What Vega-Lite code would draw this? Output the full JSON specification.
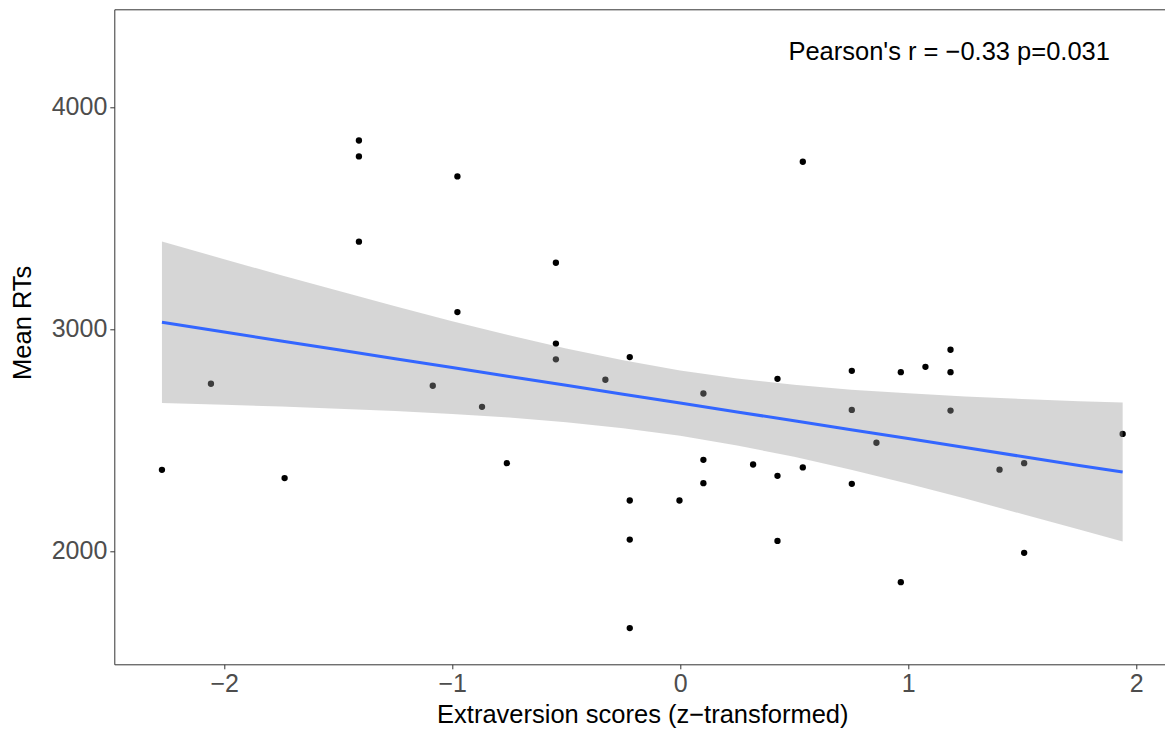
{
  "$schema": "https://vega.github.io/schema/vega-lite/v6.json",
  "width": 1056,
  "height": 655,
  "autosize": {"type": "none"},
  "padding": {"left": 114.3, "top": 9.3, "right": 0, "bottom": 66},
  "background": "white",
  "config": {
    "view": {"stroke": "#333333", "strokeWidth": 1},
    "font": "Liberation Sans",
    "axis": {
      "grid": false,
      "domain": false,
      "tickColor": "#333333",
      "tickSize": 4.5,
      "labelColor": "#4D4D4D",
      "labelFont": "Liberation Sans",
      "labelFontSize": 25,
      "titleFont": "Liberation Sans",
      "titleFontSize": 25.5,
      "titleFontWeight": "normal",
      "titleColor": "#000000"
    }
  },
  "datasets": {
    "pts": [
      {"x": -2.273, "y": 2365}, {"x": -2.058, "y": 2753}, {"x": -1.735, "y": 2328},
      {"x": -1.409, "y": 3849}, {"x": -1.409, "y": 3777}, {"x": -1.409, "y": 3393},
      {"x": -1.085, "y": 2744}, {"x": -0.977, "y": 3687}, {"x": -0.977, "y": 3076},
      {"x": -0.869, "y": 2649}, {"x": -0.760, "y": 2395}, {"x": -0.545, "y": 3298},
      {"x": -0.545, "y": 2934}, {"x": -0.545, "y": 2863}, {"x": -0.328, "y": 2771},
      {"x": -0.221, "y": 2873}, {"x": -0.221, "y": 2227}, {"x": -0.221, "y": 2051},
      {"x": -0.221, "y": 1652}, {"x": -0.003, "y": 2227}, {"x": 0.102, "y": 2709},
      {"x": 0.102, "y": 2410}, {"x": 0.102, "y": 2305}, {"x": 0.320, "y": 2389},
      {"x": 0.427, "y": 2775}, {"x": 0.427, "y": 2338}, {"x": 0.427, "y": 2045},
      {"x": 0.538, "y": 3753}, {"x": 0.538, "y": 2376}, {"x": 0.753, "y": 2811},
      {"x": 0.753, "y": 2635}, {"x": 0.753, "y": 2302}, {"x": 0.861, "y": 2487},
      {"x": 0.968, "y": 2805}, {"x": 0.968, "y": 1859}, {"x": 1.076, "y": 2829},
      {"x": 1.186, "y": 2906}, {"x": 1.186, "y": 2805}, {"x": 1.186, "y": 2632},
      {"x": 1.401, "y": 2366}, {"x": 1.509, "y": 2395}, {"x": 1.509, "y": 1991},
      {"x": 1.941, "y": 2527}
    ],
    "band": [
      {"x": -2.273, "fit": 3030, "lo": 2666, "hi": 3394},
      {"x": -2.0, "fit": 2986, "lo": 2658, "hi": 3314},
      {"x": -1.75, "fit": 2946, "lo": 2650, "hi": 3242},
      {"x": -1.5, "fit": 2906, "lo": 2640, "hi": 3172},
      {"x": -1.25, "fit": 2866, "lo": 2630, "hi": 3102},
      {"x": -1.0, "fit": 2826, "lo": 2617, "hi": 3035},
      {"x": -0.75, "fit": 2786, "lo": 2601, "hi": 2971},
      {"x": -0.5, "fit": 2746, "lo": 2580, "hi": 2912},
      {"x": -0.25, "fit": 2706, "lo": 2553, "hi": 2859},
      {"x": 0.0, "fit": 2666, "lo": 2519, "hi": 2813},
      {"x": 0.25, "fit": 2626, "lo": 2475, "hi": 2777},
      {"x": 0.5, "fit": 2586, "lo": 2424, "hi": 2748},
      {"x": 0.75, "fit": 2546, "lo": 2365, "hi": 2726},
      {"x": 1.0, "fit": 2506, "lo": 2302, "hi": 2710},
      {"x": 1.25, "fit": 2466, "lo": 2236, "hi": 2696},
      {"x": 1.5, "fit": 2425, "lo": 2166, "hi": 2684},
      {"x": 1.75, "fit": 2385, "lo": 2096, "hi": 2674},
      {"x": 1.941, "fit": 2355, "lo": 2042, "hi": 2669}
    ],
    "note": [
      {"x": 1.18, "y": 4248, "label": "Pearson's r = −0.33 p=0.031"}
    ]
  },
  "layer": [
    {
      "data": {"name": "pts"},
      "mark": {"type": "circle", "color": "#000000", "opacity": 1, "size": 40},
      "encoding": {
        "x": {
          "field": "x", "type": "quantitative",
          "scale": {"domain": [-2.482, 2.15], "nice": false, "zero": false},
          "axis": {"title": "Extraversion scores (z−transformed)", "values": [-2, -1, 0, 1, 2], "labelPadding": 3, "titlePadding": 6, "format": "d", "labelExpr": "replace(datum.label, '-', '−')"}
        },
        "y": {
          "field": "y", "type": "quantitative",
          "scale": {"domain": [1489, 4440], "nice": false, "zero": false},
          "axis": {"title": "Mean RTs", "values": [2000, 3000, 4000], "labelPadding": 3, "titlePadding": 16, "format": "d", "titleY": 313}
        }
      }
    },
    {
      "data": {"name": "band"},
      "mark": {"type": "area", "color": "#999999", "opacity": 0.4},
      "encoding": {
        "x": {"field": "x", "type": "quantitative"},
        "y": {"field": "lo", "type": "quantitative"},
        "y2": {"field": "hi"}
      }
    },
    {
      "data": {"name": "band"},
      "mark": {"type": "line", "color": "#3366FF", "strokeWidth": 3},
      "encoding": {
        "x": {"field": "x", "type": "quantitative"},
        "y": {"field": "fit", "type": "quantitative"}
      }
    },
    {
      "data": {"name": "note"},
      "mark": {"type": "text", "fontSize": 25.5, "color": "#000000", "align": "center", "baseline": "middle", "font": "Liberation Sans"},
      "encoding": {
        "x": {"field": "x", "type": "quantitative"},
        "y": {"field": "y", "type": "quantitative"},
        "text": {"field": "label"}
      }
    }
  ]
}
